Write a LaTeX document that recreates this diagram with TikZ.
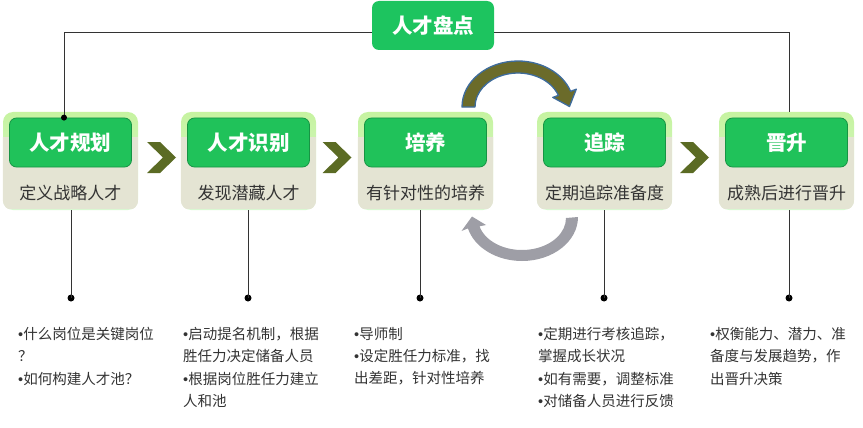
\documentclass[tikz,border=0pt]{standalone}
\usepackage{fontspec}
\newfontfamily\cjk{Noto Sans CJK SC}
\newfontfamily\lat{Liberation Sans}
\newcommand\bul{{\lat\char"2022}}
\usetikzlibrary{calc}
\definecolor{topgreen}{HTML}{1DC45F}
\definecolor{innergreen}{HTML}{20C25A}
\definecolor{innerborder}{HTML}{179444}
\definecolor{outertop}{HTML}{C6F3A0}
\definecolor{outermid}{HTML}{D9F8D3}
\definecolor{beige}{HTML}{E4E4D3}
\definecolor{chevcol}{HTML}{5B6B24}
\definecolor{arrowolive}{HTML}{6B6B2A}
\definecolor{arrowblue}{HTML}{3E6C9C}
\definecolor{arrowgray}{HTML}{9E9EA6}
\definecolor{txtgray}{HTML}{333333}
\tikzset{
  outerbox/.style={rounded corners=10pt, minimum width=135pt, minimum height=98pt, inner sep=0pt,
    top color=outertop, bottom color=outermid},
  innerbox/.style={rounded corners=7pt, fill=innergreen, draw=innerborder, line width=0.8pt,
    minimum width=122pt, minimum height=49pt, inner sep=0pt, text=white,
    font=\cjk\bfseries\fontsize{20.5}{24}\selectfont},
  topbox/.style={rounded corners=7pt, fill=topgreen, minimum width=122pt, minimum height=49pt,
    inner sep=0pt, text=white, font=\cjk\bfseries\fontsize{20.5}{24}\selectfont},
  subtext/.style={text=txtgray, inner sep=0pt, font=\cjk\fontsize{17}{20}\selectfont},
  bullettext/.style={text=txtgray, inner sep=0pt, anchor=north west, align=left,
    font=\cjk\fontsize{14.5}{22.3}\selectfont},
  link/.style={draw=black!80, line width=0.8pt},
  dotmark/.style={circle, fill=black, inner sep=0pt, minimum size=7pt},
  chev/.style={fill=chevcol}
}
\newcommand\mystage[4]{%
  \node[outerbox] (#1) at (#2,161) {};
  \begin{scope}
    \clip[rounded corners=10pt] (#1.south west) rectangle (#1.north east);
    \fill[beige] ($(#1.south west)+(-1,-1)$) rectangle ($(#1.east)+(1,-24)$);
  \end{scope}
  \node[innerbox] (#1t) at (#2,142.5) {#3};
  \node[subtext] (#1s) at (#2,193) {#4};
}
\newcommand\mychev[1]{\fill[chev] (#1,142) -- ++(13,0) -- ++(16,15.5) -- ++(-16,15.5) -- ++(-13,0) -- ++(16,-15.5) -- cycle;}
\begin{document}
\begin{tikzpicture}[x=1pt,y=-1pt]
\useasboundingbox (0,0) rectangle (863,428);
% top node
\node[topbox] (top) at (433,25.5) {人才盘点};
% stages
\mystage{s1}{70.5}{人才规划}{定义战略人才}
\mystage{s2}{248.5}{人才识别}{发现潜藏人才}
\mystage{s3}{425.5}{培养}{有针对性的培养}
\mystage{s4}{604.5}{追踪}{定期追踪准备度}
\mystage{s5}{786.5}{晋升}{成熟后进行晋升}
% chevrons
\mychev{147}
\mychev{322.5}
\mychev{680}
% top connectors
\coordinate (tl) at (64,32);
\coordinate (tr) at (789,32);
\draw[link] (top.west |- tl) -| (s1t.north -| tl);
\node[dotmark, minimum size=6pt] (d0) at (s1t.north -| tl) {};
\draw[link] (top.east |- tr) -| (s5.north -| tr);
% vertical lines with dots
\node[dotmark] (d1) at (71,298) {};
\node[dotmark] (d2) at (248,298) {};
\node[dotmark] (d3) at (420,298) {};
\node[dotmark] (d4) at (604,298) {};
\node[dotmark] (d5) at (789,298) {};
\draw[link] (s1.south -| d1) -- (d1.center);
\draw[link] (s2.south -| d2) -- (d2.center);
\draw[link] (s3.south -| d3) -- (d3.center);
\draw[link] (s4.south -| d4) -- (d4.center);
\draw[link] (s5.south -| d5) -- (d5.center);
% bullet texts
\node[bullettext] (t1) at (18,327) {\bul 什么岗位是关键岗位\\？\\\bul 如何构建人才池？};
\node[bullettext] (t2) at (183,327) {\bul 启动提名机制，根据\\胜任力决定储备人员\\\bul 根据岗位胜任力建立\\人和池};
\node[bullettext] (t3) at (354,327) {\bul 导师制\\\bul 设定胜任力标准，找\\出差距，针对性培养};
\node[bullettext] (t4) at (538,327) {\bul 定期进行考核追踪，\\掌握成长状况\\\bul 如有需要，调整标准\\\bul 对储备人员进行反馈};
\node[bullettext] (t5) at (710,327) {\bul 权衡能力、潜力、准\\备度与发展趋势，作\\出晋升决策};
% top curved arrow (olive with blue outline)
\filldraw[fill=arrowolive, draw=arrowblue, line width=1.3pt, line join=round]
  (462,107) arc[start angle=180, end angle=340, x radius=56, y radius=46]
  -- (576.3,89.2) -- (569.5,106.5) -- (552.8,97.4) -- (558.4,95.4)
  arc[start angle=340, end angle=180, x radius=43, y radius=34] -- cycle;
% bottom curved arrow (gray)
\fill[arrowgray]
  (578,217) arc[start angle=0, end angle=165, x radius=56, y radius=44]
  -- (461.5,231) -- (472,216.5) -- (486,225) -- (479.5,226.3)
  arc[start angle=165, end angle=0, x radius=44, y radius=32] -- cycle;
\end{tikzpicture}
\end{document}
